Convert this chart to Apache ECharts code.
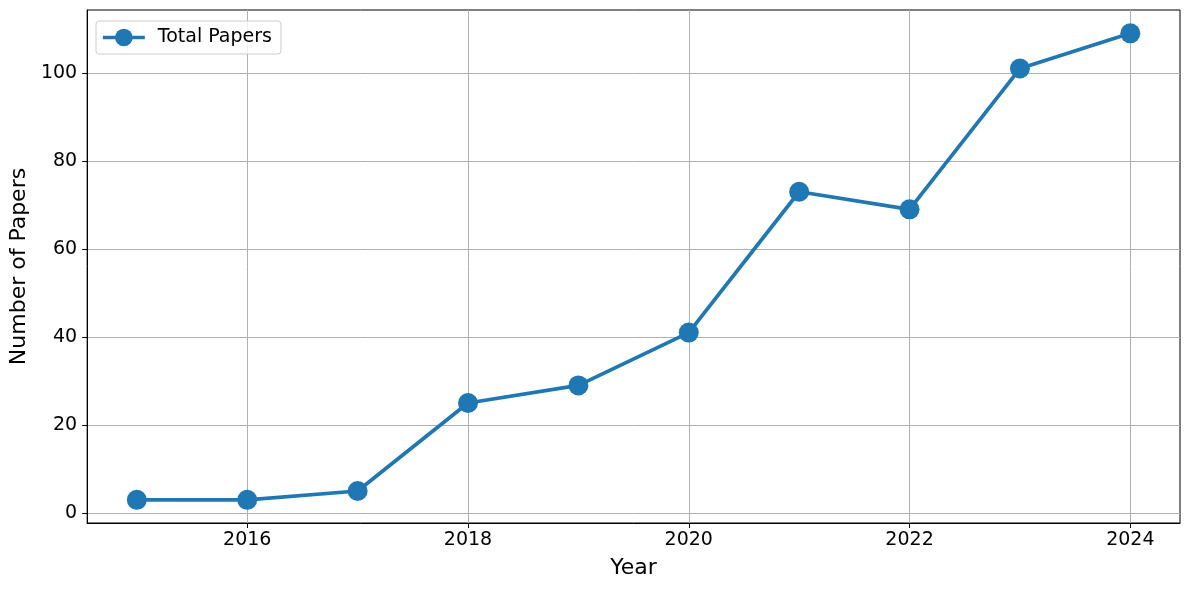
<!DOCTYPE html>
<html>
<head>
<meta charset="utf-8">
<script src="https://cdn.jsdelivr.net/npm/echarts@6/dist/echarts.min.js"></script>
<style>html,body{margin:0;padding:0;background:#fff}#c{width:1189px;height:590px}</style>
</head>
<body>
<div id="c"></div>
<script>
const years = [2015, 2016, 2017, 2018, 2019, 2020, 2021, 2022, 2023, 2024];
const totalPapers = [3, 3, 5, 25, 29, 41, 73, 69, 101, 109];
const xTicks = [2016, 2018, 2020, 2022, 2024];
const yTicks = [0, 20, 40, 60, 80, 100];

const font = 'DejaVu Sans';
const chart = echarts.init(document.getElementById('c'), null, {renderer: 'canvas'});
chart.setOption({
  animation: false,
  backgroundColor: '#fff',
  grid: {left: 85, right: 9, top: 10, bottom: 67, show: true, borderColor: '#000', borderWidth: 1, containLabel: false},
  legend: {
    left: 96, top: 21, data: ['Total Papers'],
    itemWidth: 42, itemHeight: 22, itemGap: 10,
    padding: [7, 9, 7, 5],
    backgroundColor: 'rgba(255,255,255,0.8)', borderColor: '#cccccc', borderWidth: 1, borderRadius: 3,
    lineStyle: {width: 3.7},
    textStyle: {fontFamily: font, fontSize: 19, color: '#000', padding: [0, 0, 0, 8]}
  },
  xAxis: {
    type: 'value', min: 2014.55, max: 2024.45,
    name: 'Year', nameLocation: 'middle', nameGap: 34,
    nameTextStyle: {fontFamily: font, fontSize: 22, color: '#000'},
    axisLine: {show: true, onZero: false, lineStyle: {color: '#000', width: 1}},
    axisTick: {show: true, length: 5, customValues: xTicks, lineStyle: {color: '#000'}},
    axisLabel: {customValues: xTicks, fontFamily: font, fontSize: 19, color: '#000', margin: 8, formatter: v => String(v)},
    splitLine: {show: true, lineStyle: {color: '#b0b0b0', width: 1}}
  },
  yAxis: {
    type: 'value', min: -2.27, max: 114.3,
    name: 'Number of Papers', nameLocation: 'middle', nameGap: 54,
    nameTextStyle: {fontFamily: font, fontSize: 22, color: '#000'},
    axisLine: {show: true, onZero: false, lineStyle: {color: '#000', width: 1}},
    axisTick: {show: true, length: 5, customValues: yTicks, lineStyle: {color: '#000'}},
    axisLabel: {customValues: yTicks, fontFamily: font, fontSize: 19, color: '#000', margin: 10, formatter: v => String(v)},
    splitLine: {show: true, lineStyle: {color: '#b0b0b0', width: 1}}
  },
  series: [{
    name: 'Total Papers', type: 'line',
    data: years.map((y, i) => [y, totalPapers[i]]),
    symbol: 'circle', symbolSize: 20,
    lineStyle: {color: '#1f77b4', width: 3.7},
    itemStyle: {color: '#1f77b4'}
  }]
});
</script>
</body>
</html>
